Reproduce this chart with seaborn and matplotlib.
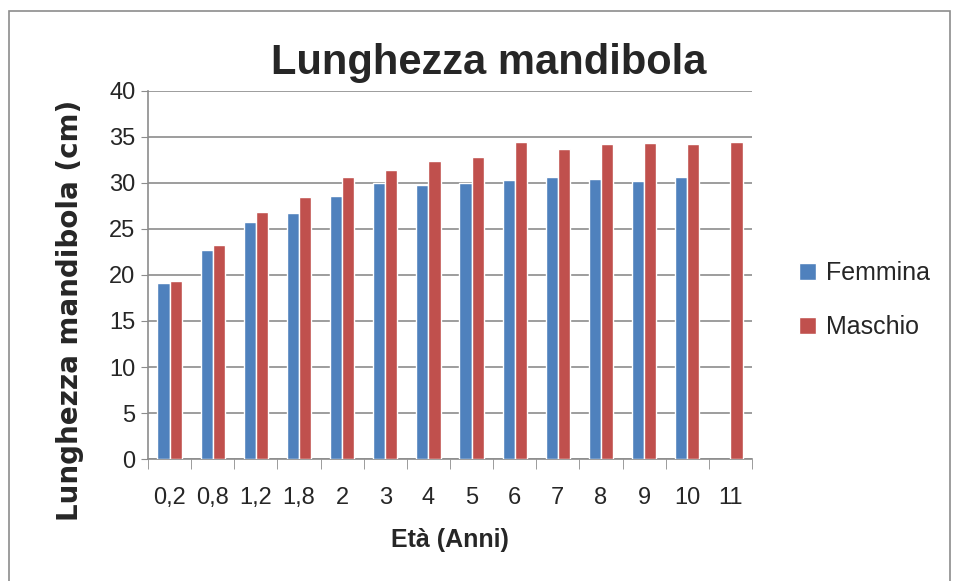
import numpy as np
import pandas as pd
import seaborn as sns
import matplotlib.pyplot as plt
from matplotlib.patches import Rectangle

eta = ['0,2', '0,8', '1,2', '1,8', '2', '3', '4', '5', '6', '7', '8', '9', '10', '11']
femmina = [19.1, 22.7, 25.8, 26.7, 28.6, 30.0, 29.8, 30.0, 30.3, 30.7, 30.4, 30.2, 30.7, np.nan]
maschio = [19.4, 23.3, 26.8, 28.5, 30.6, 31.4, 32.4, 32.8, 34.5, 33.7, 34.2, 34.4, 34.2, 34.5]

df = pd.DataFrame({'Età': eta * 2,
                   'val': femmina + maschio,
                   'sesso': ['Femmina'] * len(eta) + ['Maschio'] * len(eta)})
df = df.dropna()

sns.set_style('white')
plt.rcParams['font.family'] = ['Liberation Sans', 'DejaVu Sans']

fig = plt.figure(figsize=(9.58, 5.81), dpi=100)
ax = fig.add_axes([148/958, 1-459/581, (752-148)/958, (459-91)/581])

sns.barplot(data=df, x='Età', y='val', hue='sesso', order=eta,
            hue_order=['Femmina', 'Maschio'],
            palette=['#4F81BD', '#C0504D'], width=0.56, saturation=1,
            ax=ax, zorder=3)

ax.set_ylim(0, 40)
ax.set_yticks(range(0, 41, 5))
ax.set_xlim(-0.5, len(eta) - 0.5)
ax.yaxis.grid(True, color='#8c8c8c', linewidth=1.2, zorder=0)
ax.set_axisbelow(True)
for s in ['top', 'right']:
    ax.spines[s].set_visible(False)
for s in ['left', 'bottom']:
    ax.spines[s].set_color('#8c8c8c')
    ax.spines[s].set_linewidth(1.2)

ax.tick_params(axis='y', length=5, color='#8c8c8c', labelsize=17, pad=4, left=True)
ax.tick_params(axis='x', which='major', length=0, labelsize=17, pad=20)
ax.set_xticks(np.arange(-0.5, len(eta), 1), minor=True)
ax.tick_params(axis='x', which='minor', length=7, color='#8c8c8c', bottom=True)

ax.set_xlabel('Età (Anni)', fontsize=18, fontweight='bold', labelpad=14)
ax.set_ylabel('Lunghezza mandibola (cm)', fontsize=20, fontweight='bold',
              family='DejaVu Sans')
ax.yaxis.set_label_coords(-0.106, 0.405)
fig.text(489/958, 1-63/581, 'Lunghezza mandibola', fontsize=30, fontweight='bold',
         ha='center', va='center')

leg = ax.legend(loc='center left', bbox_to_anchor=(1.04, 0.432), frameon=False,
                fontsize=18, handlelength=0.7, handleheight=0.7, handletextpad=0.4,
                labelspacing=1.2)

fig.add_artist(Rectangle((9/958, -0.05), 941/958, 1.05 - 11/581, transform=fig.transFigure,
                         fill=False, edgecolor='#8c8c8c', linewidth=1.2))

plt.savefig('out.png', dpi=100)
